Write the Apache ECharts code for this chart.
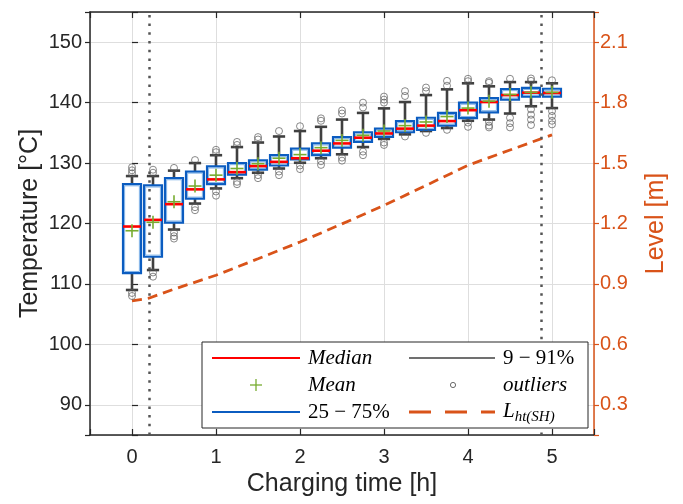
<!DOCTYPE html>
<html>
<head>
<meta charset="utf-8">
<script src="https://cdn.jsdelivr.net/npm/echarts@6/dist/echarts.min.js"></script>
<style>
  html, body { margin: 0; padding: 0; background: #ffffff; }
  #chart { width: 683px; height: 504px; }
</style>
</head>
<body>
<div id="chart"></div>
<script>
// Storage temperature distribution while charging, sampled every quarter hour
const chargeTime = [0, 0.25, 0.5, 0.75, 1, 1.25, 1.5, 1.75, 2, 2.25, 2.5, 2.75, 3, 3.25, 3.5, 3.75, 4, 4.25, 4.5, 4.75, 5];
const p9     = [109.0, 112.3, 119.0, 123.3, 125.8, 127.5, 128.4, 129.1, 130.05, 130.8, 131.45, 132.65, 134.0, 134.75, 135.3, 135.8, 137.0, 137.2, 138.2, 139.4, 139.1];
const p25    = [111.8, 114.5, 120.15, 124.1, 126.5, 128.1, 128.9, 129.6, 130.6, 131.3, 132.55, 133.5, 134.35, 135.1, 135.5, 136.2, 137.45, 138.4, 140.5, 141.0, 141.0];
const median = [119.5, 120.6, 123.2, 125.65, 127.3, 128.5, 129.5, 130.2, 130.8, 132.05, 133.25, 134.2, 134.9, 135.7, 136.2, 136.95, 138.75, 140.1, 141.25, 141.65, 141.6];
const mean   = [118.8, 120.2, 123.6, 126.2, 128.0, 129.1, 129.9, 130.8, 131.4, 132.55, 133.75, 134.6, 135.3, 136.2, 136.8, 137.7, 139.1, 140.25, 141.35, 141.7, 141.7];
const p75    = [126.5, 126.3, 127.5, 128.6, 129.45, 130.0, 130.45, 131.3, 132.4, 133.25, 134.3, 135.1, 135.7, 136.95, 137.5, 138.3, 140.0, 140.75, 142.25, 142.45, 142.3];
const p91    = [127.85, 127.85, 128.75, 130.0, 131.3, 132.65, 133.4, 134.4, 135.3, 136.0, 137.2, 138.3, 139.05, 140.1, 141.25, 142.2, 143.2, 142.7, 143.4, 143.4, 143.2];
const outliers = [
  [108.5, 108.0, 128.3, 128.8, 129.3],
  [111.9, 111.2, 128.4, 128.9],
  [118.5, 117.9, 117.5, 129.2],
  [122.7, 122.2, 130.5],
  [125.3, 124.6, 131.8, 132.2],
  [126.9, 126.5, 133.0, 133.5],
  [128.0, 127.5, 133.9, 134.3],
  [128.6, 128.0, 135.3],
  [129.6, 129.0, 136.1],
  [130.3, 129.7, 137.0, 137.4],
  [130.9, 130.4, 138.2, 138.7],
  [131.9, 131.3, 139.2, 140.0],
  [133.4, 133.0, 140.0, 140.5, 141.0],
  [134.4, 141.1, 141.9],
  [135.0, 141.9, 142.5],
  [135.5, 142.8, 143.6],
  [136.7, 136.0, 143.55, 143.95],
  [136.8, 136.2, 135.9, 143.3, 143.55],
  [137.5, 136.6, 135.9, 143.95],
  [138.9, 138.0, 137.2, 136.3, 143.6, 144.0],
  [138.6, 137.8, 137.0, 136.4, 143.7]
];

// Hot-tank level during charging
const levelTime  = [0, 0.2, 0.5, 1, 1.5, 2, 2.5, 3, 3.5, 4, 4.5, 5];
const levelValue = [0.816, 0.829, 0.874, 0.943, 1.025, 1.108, 1.198, 1.29, 1.389, 1.489, 1.565, 1.64];

// Start and end of the charging phase
const phaseMarks = [0.2, 4.87];

const BLUE = '#0B5CC0';
const ORANGE = '#D95319';
const TXT = '#262626';
const HALF_BOX = 0.107;
const HALF_CAP = 0.073;

const boxData = chargeTime.map((t, i) => [t, p9[i], p25[i], median[i], mean[i], p75[i], p91[i]]);
const outlierData = [];
outliers.forEach((list, i) => list.forEach(v => outlierData.push([chargeTime[i], v])));
const levelData = levelTime.map((t, i) => [t, levelValue[i]]);

function renderBox(params, api) {
  const t = api.value(0);
  const lo = api.value(1), q1 = api.value(2), md = api.value(3);
  const mn = api.value(4), q3 = api.value(5), hi = api.value(6);
  const c = (x, y) => api.coord([x, y]);
  const xm = c(t, md)[0];
  const xl = c(t - HALF_BOX, md)[0];
  const xr = c(t + HALF_BOX, md)[0];
  const cl = c(t - HALF_CAP, md)[0];
  const cr = c(t + HALF_CAP, md)[0];
  const yLo = c(t, lo)[1], yQ1 = c(t, q1)[1], yMd = c(t, md)[1];
  const yMn = c(t, mn)[1], yQ3 = c(t, q3)[1], yHi = c(t, hi)[1];
  const whisk = { stroke: '#404040', lineWidth: 2.6 };
  const green = { stroke: '#77AC30', lineWidth: 1.6 };
  return {
    type: 'group',
    children: [
      { type: 'line', shape: { x1: xm, y1: yHi, x2: xm, y2: yQ3 }, style: whisk },
      { type: 'line', shape: { x1: xm, y1: yQ1, x2: xm, y2: yLo }, style: whisk },
      { type: 'line', shape: { x1: cl, y1: yHi, x2: cr, y2: yHi }, style: whisk },
      { type: 'line', shape: { x1: cl, y1: yLo, x2: cr, y2: yLo }, style: whisk },
      { type: 'rect', shape: { x: xl, y: yQ3, width: xr - xl, height: yQ1 - yQ3 },
        style: { fill: '#ffffff', stroke: BLUE, lineWidth: 2.2 } },
      { type: 'rect', shape: { x: xl + 1.6, y: yQ3 + 1.6, width: xr - xl - 3.2, height: Math.max(0, yQ1 - yQ3 - 3.2) },
        style: { fill: 'none', stroke: '#7DB0E6', lineWidth: 1 } },
      { type: 'line', shape: { x1: xl, y1: yMd, x2: xr, y2: yMd }, style: { stroke: '#FF0000', lineWidth: 2.6 } },
      { type: 'line', shape: { x1: xm - 6.5, y1: yMn, x2: xm + 6.5, y2: yMn }, style: green },
      { type: 'line', shape: { x1: xm, y1: yMn - 6.5, x2: xm, y2: yMn + 6.5 }, style: green }
    ]
  };
}

const isMultiple = (v, step) => Math.abs(v / step - Math.round(v / step)) < 1e-6;

const legendFont = '"Liberation Serif", "Times New Roman", serif';
const legendX1 = 212, legendX2 = 409;
const rows = [358, 385, 412];

const option = {
  animation: false,
  backgroundColor: '#ffffff',
  grid: { left: 90, right: 89, top: 12, bottom: 69, containLabel: false },
  xAxis: [
    {
      type: 'value', position: 'bottom', min: -0.5, max: 5.5, splitNumber: 6,
      axisLine: { show: true, onZero: false, lineStyle: { color: TXT, width: 1.5 } },
      axisTick: { show: true, inside: true, length: 6, lineStyle: { color: TXT, width: 1.2 } },
      axisLabel: {
        show: true, fontSize: 20, color: TXT, margin: 12,
        fontFamily: '"Liberation Sans", Arial, sans-serif',
        formatter: v => (isMultiple(v, 1) ? String(Math.round(v)) : '')
      },
      splitLine: { show: true, lineStyle: { color: '#dedede', width: 1 } },
      name: 'Charging time [h]', nameLocation: 'middle', nameGap: 33,
      nameTextStyle: { fontSize: 25, color: TXT, fontFamily: '"Liberation Sans", Arial, sans-serif' }
    },
    {
      type: 'value', position: 'top', min: -0.5, max: 5.5, splitNumber: 6,
      axisLine: { show: true, onZero: false, lineStyle: { color: TXT, width: 1.5 } },
      axisTick: { show: true, inside: true, length: 6, lineStyle: { color: TXT, width: 1.2 } },
      axisLabel: { show: false },
      splitLine: { show: false }
    }
  ],
  yAxis: [
    {
      type: 'value', position: 'left', min: 85, max: 155, splitNumber: 7,
      axisLine: { show: true, onZero: false, lineStyle: { color: TXT, width: 1.5 } },
      axisTick: { show: true, inside: false, length: 5, lineStyle: { color: TXT, width: 1.2 } },
      axisLabel: {
        show: true, fontSize: 20, color: TXT, margin: 8,
        fontFamily: '"Liberation Sans", Arial, sans-serif',
        formatter: v => (isMultiple(v, 10) ? String(Math.round(v)) : '')
      },
      splitLine: { show: true, lineStyle: { color: '#dedede', width: 1 } },
      name: 'Temperature [°C]', nameLocation: 'middle', nameGap: 47, nameRotate: 90,
      nameMoveOverlap: false,
      nameTextStyle: { fontSize: 25, color: TXT, fontFamily: '"Liberation Sans", Arial, sans-serif' }
    },
    {
      type: 'value', position: 'right', min: 0.15, max: 2.25, splitNumber: 7,
      axisLine: { show: true, onZero: false, lineStyle: { color: ORANGE, width: 1.5 } },
      axisTick: { show: true, inside: false, length: 5, lineStyle: { color: ORANGE, width: 1.2 } },
      axisLabel: {
        show: true, fontSize: 20, color: ORANGE, margin: 6,
        fontFamily: '"Liberation Sans", Arial, sans-serif',
        formatter: v => (isMultiple(v, 0.3) ? v.toFixed(1) : '')
      },
      splitLine: { show: false },
      name: 'Level [m]', nameLocation: 'middle', nameGap: 50, nameRotate: 90,
      nameTextStyle: { fontSize: 25, color: ORANGE, fontFamily: '"Liberation Sans", Arial, sans-serif' }
    },
    {
      type: 'value', position: 'left', min: 85, max: 155, splitNumber: 7,
      axisLine: { show: false },
      axisTick: { show: true, inside: true, length: 6, lineStyle: { color: TXT, width: 1.2 } },
      axisLabel: { show: false },
      splitLine: { show: false }
    }
  ],
  series: [
    {
      name: 'level', type: 'line', xAxisIndex: 0, yAxisIndex: 1,
      data: levelData, showSymbol: false, symbol: 'none', z: 2,
      lineStyle: { color: ORANGE, width: 2.8, type: [10, 6] }
    },
    {
      name: 'box', type: 'custom', xAxisIndex: 0, yAxisIndex: 0,
      data: boxData, renderItem: renderBox, z: 3,
      encode: { x: 0, y: [1, 2, 3, 4, 5, 6] }
    },
    {
      name: 'outliers', type: 'scatter', xAxisIndex: 0, yAxisIndex: 0,
      data: outlierData, symbol: 'circle', symbolSize: 7, z: 4,
      itemStyle: { color: 'rgba(255,255,255,0)', borderColor: '#5a5a5a', borderWidth: 0.9 },
      markLine: {
        silent: true, symbol: ['none', 'none'], label: { show: false }, z: 5,
        lineStyle: { color: '#555555', width: 2.5, type: [2.5, 6.2] },
        data: phaseMarks.map(v => ({ xAxis: v }))
      }
    }
  ],
  graphic: [
    { type: 'rect', z: 100, shape: { x: 202, y: 342, width: 386, height: 86 },
      style: { fill: '#ffffff', stroke: TXT, lineWidth: 1 } },
    // Median
    { type: 'line', z: 101, shape: { x1: legendX1, y1: rows[0], x2: legendX1 + 88, y2: rows[0] },
      style: { stroke: '#FF0000', lineWidth: 2 } },
    { type: 'text', z: 101, x: 308, y: rows[0],
      style: { text: 'Median', font: 'italic 21px ' + legendFont, fill: '#000', verticalAlign: 'middle' } },
    // Mean
    { type: 'line', z: 101, shape: { x1: 250, y1: rows[1], x2: 262, y2: rows[1] }, style: { stroke: '#77AC30', lineWidth: 1.3 } },
    { type: 'line', z: 101, shape: { x1: 256, y1: rows[1] - 6, x2: 256, y2: rows[1] + 6 }, style: { stroke: '#77AC30', lineWidth: 1.3 } },
    { type: 'text', z: 101, x: 308, y: rows[1],
      style: { text: 'Mean', font: 'italic 21px ' + legendFont, fill: '#000', verticalAlign: 'middle' } },
    // Interquartile box
    { type: 'line', z: 101, shape: { x1: legendX1, y1: rows[2], x2: legendX1 + 88, y2: rows[2] },
      style: { stroke: BLUE, lineWidth: 2 } },
    { type: 'text', z: 101, x: 308, y: rows[2],
      style: { text: '25 \u2212 75%', font: '21px ' + legendFont, fill: '#000', verticalAlign: 'middle' } },
    // Whiskers
    { type: 'line', z: 101, shape: { x1: legendX2, y1: rows[0], x2: legendX2 + 86, y2: rows[0] },
      style: { stroke: '#404040', lineWidth: 1.5 } },
    { type: 'text', z: 101, x: 503, y: rows[0],
      style: { text: '9 \u2212 91%', font: '21px ' + legendFont, fill: '#000', verticalAlign: 'middle' } },
    // Outliers
    { type: 'circle', z: 101, shape: { cx: 453, cy: rows[1], r: 2.6 },
      style: { fill: 'none', stroke: '#5a5a5a', lineWidth: 0.9 } },
    { type: 'text', z: 101, x: 503, y: rows[1],
      style: { text: 'outliers', font: 'italic 21px ' + legendFont, fill: '#000', verticalAlign: 'middle' } },
    // Level
    { type: 'line', z: 101, shape: { x1: legendX2, y1: rows[2], x2: legendX2 + 86, y2: rows[2] },
      style: { stroke: ORANGE, lineWidth: 2.8, lineDash: [22, 14] } },
    { type: 'text', z: 101, x: 503, y: rows[2] - 11,
      style: {
        text: '{a|L}{b|ht(SH)}',
        rich: {
          a: { font: 'italic 21px ' + legendFont, fill: '#000', verticalAlign: 'top' },
          b: { font: 'italic 15px ' + legendFont, fill: '#000', padding: [9, 0, 0, 0] }
        }
      } }
  ]
};

const chart = echarts.init(document.getElementById('chart'), null, { renderer: 'canvas' });
chart.setOption(option);
</script>
</body>
</html>
